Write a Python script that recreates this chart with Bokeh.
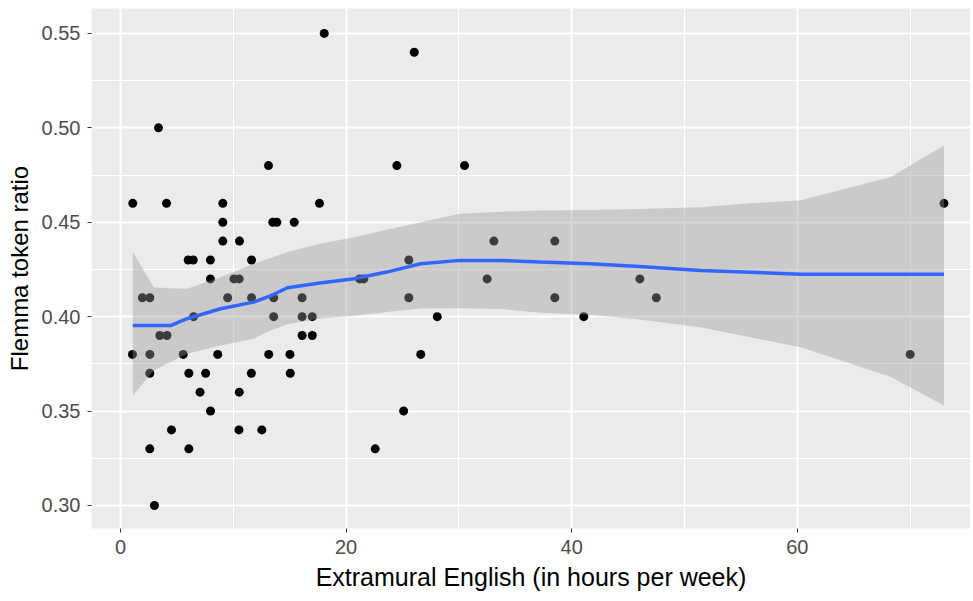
from bokeh.plotting import figure
from bokeh.models import FixedTicker, NumeralTickFormatter
from bokeh.embed import file_html
from bokeh.resources import INLINE

# Scatter data: hours per week vs. Flemma token ratio
hours = [
    1.09, 4.08, 9.07, 17.64, 73.0,                      # 0.46
    9.07, 13.5, 13.86, 15.4,                            # 0.45
    9.07, 10.55, 33.1, 38.5,                            # 0.44
    6.0, 6.45, 7.97, 11.62, 25.56,                      # 0.43
    7.97, 10.06, 10.52, 21.2, 21.57, 32.5, 46.04,       # 0.42
    1.94, 2.6, 9.5, 11.62, 13.58, 16.1, 25.56, 38.5, 47.5,  # 0.41
    6.48, 13.58, 16.1, 17.0, 28.08, 41.07,              # 0.40
    3.49, 4.12, 16.1, 17.0,                             # 0.39
    1.06, 2.6, 5.56, 8.62, 13.14, 15.02, 26.62, 70.0,   # 0.38
    2.6, 6.06, 7.55, 11.6, 15.05,                       # 0.37
    7.05, 10.53,                                        # 0.36
    7.98, 25.1,                                         # 0.35
    4.52, 10.5, 12.53,                                  # 0.34
    2.6, 6.06, 22.58,                                   # 0.33
    3.01,                                               # 0.30
    13.12, 24.5, 30.5,                                  # 0.48
    3.37,                                               # 0.50
    18.06,                                              # 0.55
    26.04,                                              # 0.54
]
ratio = (
    [0.46] * 5 + [0.45] * 4 + [0.44] * 4 + [0.43] * 5 + [0.42] * 7
    + [0.41] * 9 + [0.40] * 6 + [0.39] * 4 + [0.38] * 8 + [0.37] * 5
    + [0.36] * 2 + [0.35] * 2 + [0.34] * 3 + [0.33] * 3 + [0.30]
    + [0.48] * 3 + [0.50] + [0.55] + [0.54]
)

# Loess smooth and its confidence band
smooth_x = [1.09, 2.95, 4.43, 5.9, 8.87, 11.8, 13.3, 14.8, 17.7, 20.7, 23.6,
            26.6, 30.1, 33.7, 37.2, 41.6, 46.0, 51.4, 55.9, 60.3, 68.3, 73.0]
smooth_fit = [0.3953, 0.3953, 0.3953, 0.3989, 0.4042, 0.4077, 0.4110, 0.4153,
              0.4178, 0.4201, 0.4236, 0.4280, 0.4298, 0.4298, 0.4289, 0.4280,
              0.4265, 0.4245, 0.4235, 0.4224, 0.4224, 0.4224]
smooth_lo = [0.3583, 0.3715, 0.3760, 0.3803, 0.3847, 0.3883, 0.3927, 0.3960,
             0.3990, 0.4005, 0.4025, 0.4043, 0.4045, 0.4040, 0.4020, 0.4010,
             0.3985, 0.3944, 0.3890, 0.3838, 0.3680, 0.3530]
smooth_hi = [0.4342, 0.4156, 0.4150, 0.4148, 0.4209, 0.4280, 0.4310, 0.4342,
             0.4386, 0.4421, 0.4460, 0.4500, 0.4545, 0.4555, 0.4562, 0.4565,
             0.4570, 0.4580, 0.4600, 0.4616, 0.4739, 0.4907]

x_ticks = [0, 20, 40, 60]
x_minor = [10, 30, 50, 70]
y_ticks = [0.30, 0.35, 0.40, 0.45, 0.50, 0.55]
y_minor = [0.325, 0.375, 0.425, 0.475, 0.525]

FONT = "Liberation Sans"

p = figure(width=970, height=593, x_range=(-2.57, 75.35), y_range=(0.2878, 0.5632),
           output_backend="svg", toolbar_location=None,
           min_border_left=91, min_border_right=0, min_border_top=8, min_border_bottom=65)

p.background_fill_color = "#EBEBEB"
p.border_fill_color = "white"
p.outline_line_color = None

p.xaxis.ticker = FixedTicker(ticks=x_ticks, minor_ticks=x_minor)
p.yaxis.ticker = FixedTicker(ticks=y_ticks, minor_ticks=y_minor)
p.yaxis.formatter = NumeralTickFormatter(format="0.00")

for g in (p.xgrid, p.ygrid):
    g.grid_line_color = "white"
    g.grid_line_width = 2
    g.minor_grid_line_color = "white"
    g.minor_grid_line_width = 1

for ax in (p.xaxis, p.yaxis):
    ax.axis_line_color = None
    ax.minor_tick_line_color = None
    ax.major_tick_line_color = "#333333"
    ax.major_tick_line_width = 1
    ax.major_tick_out = 4
    ax.major_tick_in = 0
    ax.major_label_text_font = FONT
    ax.major_label_text_font_size = "20px"
    ax.major_label_text_color = "#4D4D4D"
    ax.major_label_standoff = 7
    ax.axis_label_text_font = FONT
    ax.axis_label_text_font_style = "normal"
    ax.axis_label_text_color = "black"

p.xaxis.axis_label = "Extramural English (in hours per week)"
p.yaxis.axis_label = "Flemma token ratio"
p.xaxis.axis_label_text_font_size = "25px"
p.yaxis.axis_label_text_font_size = "24px"
p.xaxis.axis_label_standoff = 6
p.yaxis.axis_label_standoff = 6

p.scatter(hours, ratio, size=9, fill_color="black", line_color=None)
p.varea(x=smooth_x, y1=smooth_lo, y2=smooth_hi, fill_color="#999999", fill_alpha=0.4)
p.line(smooth_x, smooth_fit, line_color="#3366FF", line_width=3.5)

open("out.html", "w").write(file_html(p, INLINE))
